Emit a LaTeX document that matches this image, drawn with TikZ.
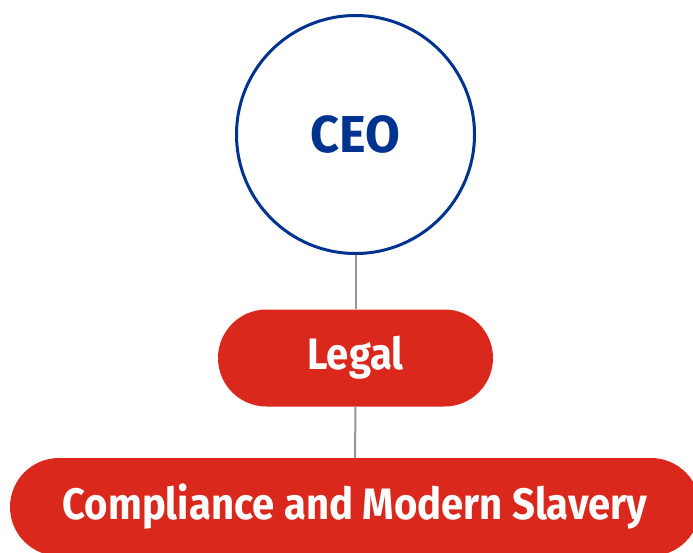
\documentclass[tikz,border=0pt]{standalone}
\usepackage{fontspec}
\usetikzlibrary{shapes.misc}
\setmainfont{Fira Sans}
% slightly condensed cuts of the same family
\newfontfamily\unitfont[FakeStretch=0.91]{Fira Sans}
\newfontfamily\ceofont[FakeStretch=0.97]{Fira Sans}
\definecolor{ceoblue}{HTML}{00338F}
\definecolor{unitred}{HTML}{DA291C}
\definecolor{linkgray}{HTML}{959595}
\begin{document}
\begin{tikzpicture}[x=1pt,y=1pt,
  ceo/.style={circle, draw=ceoblue, line width=3pt, fill=white, minimum size=238pt, inner sep=0pt,
    text=ceoblue, font=\ceofont\fontsize{52}{60}\selectfont\bfseries},
  unit/.style={rounded rectangle, fill=unitred, text=white, inner sep=0pt,
    font=\unitfont\fontsize{44}{52}\selectfont\bfseries},
  link/.style={draw=linkgray, line width=2pt}]
  \useasboundingbox (0,0) rectangle (693,-552);
  \node[ceo] (ceo) at (355.5,-134.5) {CEO};
  \node[unit, minimum width=275pt, minimum height=97pt] (legal) at (355.5,-358) {Legal};
  \node[unit, minimum width=690pt, minimum height=98pt] (comp) at (355,-507) {Compliance and Modern Slavery};
  \draw[link] (ceo.south) -- (legal.north);
  \draw[link] (legal.south) -- (comp.north);
\end{tikzpicture}
\end{document}
